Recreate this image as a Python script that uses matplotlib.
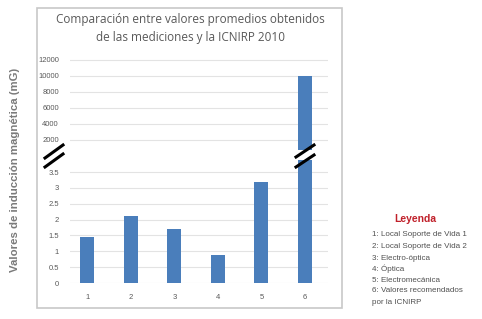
import matplotlib
matplotlib.use("Agg")
import matplotlib.pyplot as plt
from matplotlib.lines import Line2D
from matplotlib.patches import Rectangle

plt.rcParams['font.family'] = ['Liberation Sans', 'DejaVu Sans']

# data
grupos = [1, 2, 3, 4, 5, 6]
valores = [1.44, 2.12, 1.69, 0.88, 3.18, 10000]
ticks_bajo = [0, 0.5, 1, 1.5, 2, 2.5, 3, 3.5]
ticks_alto = [2000, 4000, 6000, 8000, 10000, 12000]
leyenda = ["1: Local Soporte de Vida 1",
           "2: Local Soporte de Vida 2",
           "3: Electro-óptica",
           "4: Óptica",
           "5: Electromecánica",
           "6: Valores recomendados",
           "por la ICNIRP"]

W, H = 482, 319
azul = '#4a7ebb'
gris = '#e3e3e3'

def fx(px):
    return px / W

def fy(py):
    return 1 - py / H

fig = plt.figure(figsize=(W / 100, H / 100), dpi=100)

# marco del grafico
fig.add_artist(Rectangle((fx(37), fy(308)), fx(342) - fx(37), fy(8) - fy(308),
                         transform=fig.transFigure, fill=False,
                         edgecolor='#c8c8c8', linewidth=1.2))

left, right = fx(70), fx(328)
ax_lo = fig.add_axes([left, fy(283), right - left, fy(160) - fy(283)])
ax_hi = fig.add_axes([left, fy(150), right - left, fy(58) - fy(150)])

for ax in (ax_lo, ax_hi):
    ax.bar(grupos, valores, width=0.32, color=azul, zorder=3)
    ax.set_xlim(0.6, 6.53)
    for s in ax.spines.values():
        s.set_visible(False)
    ax.tick_params(length=0, labelsize=5.5, labelcolor='#595959', pad=8)
    ax.yaxis.grid(True, color=gris, linewidth=0.8, zorder=0)
    ax.patch.set_alpha(0)

ax_lo.set_ylim(0, 3.88)
ax_lo.set_yticks(ticks_bajo)
ax_lo.set_yticklabels([('%g' % t) for t in ticks_bajo])
ax_lo.set_xticks(grupos)
ax_lo.set_xticklabels([str(g) for g in grupos])

ax_hi.set_ylim(750, 12250)
ax_hi.set_yticks(ticks_alto)
ax_hi.set_xticks([])

# marcas de corte
for x0, x1, y0, y1 in [(45, 63, 158, 145), (45, 63, 167, 154),
                       (296, 314, 157, 145), (296, 314, 167, 155)]:
    fig.add_artist(Line2D([fx(x0), fx(x1)], [fy(y0), fy(y1)],
                          transform=fig.transFigure, color='black', linewidth=2.2))

fig.text(fx(190), fy(29), "Comparación entre valores promedios obtenidos\nde las mediciones y la ICNIRP 2010",
         ha='center', va='center', fontsize=8.5, color='#595959', linespacing=1.5,
         family=['Open Sans', 'DejaVu Sans'])

fig.text(fx(15), fy(170), "Valores de inducción magnética (mG)", rotation=90,
         ha='center', va='center', fontsize=8.2, color='#7a7a7a', fontweight='bold')

fig.text(fx(415), fy(219), "Leyenda", ha='center', va='center', fontsize=7.5,
         color='#c0202a', fontweight='bold')
ys = [235, 247, 258, 269, 280, 291, 302]
for t, y in zip(leyenda, ys):
    fig.text(fx(372), fy(y), t, ha='left', va='center', fontsize=5.8, color='#505050')

fig.savefig("out.png", dpi=100)
